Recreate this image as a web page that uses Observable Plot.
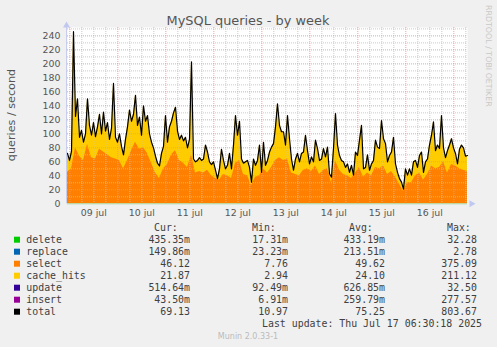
<!DOCTYPE html>
<html><head><meta charset="utf-8">
<script src="https://cdn.jsdelivr.net/npm/d3@7"></script>
<script src="https://cdn.jsdelivr.net/npm/@observablehq/plot@0.6"></script>
<style>html,body{margin:0;padding:0;background:#F0F0F0;} svg{display:block}</style>
</head><body><div id="chart"></div>
<script>
const title = "MySQL queries - by week";
const yLabel = "queries / second";
const startTime = "2025-07-08T22:50:00Z";
const endTime = "2025-07-17T06:50:00Z";
const dayTicks = ["2025-07-09T12:00Z","2025-07-10T12:00Z","2025-07-11T12:00Z","2025-07-12T12:00Z","2025-07-13T12:00Z","2025-07-14T12:00Z","2025-07-15T12:00Z","2025-07-16T12:00Z"];
const dayLabels = ["09 jul","10 jul","11 jul","12 jul","13 jul","14 jul","15 jul","16 jul"];
const yTicks = [0,20,40,60,80,100,120,140,160,180,200,220,240];
const yMinor = [10,30,50,70,90,110,130,150,170,190,210,230,250];

// total queries/second, hourly from startTime
const total = [
72,62,75,246,125,150,95,105,88,100, 150,112,98,116,96,110,128,100,131,104,
116,92,108,172,95,88,100,82,70,92, 110,134,118,128,155,112,124,98,140,118,
126,100,88,80,68,58,54,72,82,126, 88,
110,118,130,138,104,92,98,90,95,80, 92,203,64,60,62,66,62,64,84,74,
60,56,60,48,36,50,78,62,50,55, 72,50,84,126,98,118,64,58,60,62,
52,31,64,55,62,84,45,88,55,62,
74,81,86,110,143,112,103,103,84,126, 93,64,48,64,72,60,72,74,98,76,
57,67,60,91,79,62,64,79,67,81, 43,38,79,129,84,69,62,60,52,57,
45,55,41,74,69,91,112,50,52,70,
48,57,62,91,81,79,119,93,86,60, 69,74,95,57,45,36,31,21,50,41,
50,41,60,62,52,69,74,45,60,64, 84,98,117,76,84,79,126,80,66,76,
84,93,80,72,57,78,84,80,68,69
];
// select queries/second, every 2 hours from startTime
const select = [
45,50,80,68,62,85,66,64,78,74, 70,66,64,62,50,62,76,88,78,80,
72,58,44,36,50,56,70,76,62,58, 52,70,44,46,44,48,40,36,34,42,
40,36,58,62,42,40,26,38,40,50, 44,52,62,66,62,64,44,42,40,48,
50,46,54,42,48,50,30,62,48,42, 40,36,44,52,38,44,40,52,50,54,
42,46,38,28,18,30,30,40,44,34, 42,54,50,52,60,44,56,54,50,48,
46
];

const seriesNames = ["delete","replace","select","cache_hits","update","insert","total"];
const seriesColors = ["#00CC00","#0066B3","#FF8000","#FFCC00","#330099","#990099","#000000"];
const curVals = ["435.35m","149.86m","46.12","21.87","514.64m","43.50m","69.13"];
const minVals = ["17.31m","23.23m","7.76","2.94","92.49m","6.91m","10.97"];
const avgVals = ["433.19m","213.51m","49.62","24.10","626.85m","259.79m","75.25"];
const maxVals = ["32.28","2.78","375.09","211.12","32.50","277.57","803.67"];
const colHeaders = ["Cur:","Min:","Avg:","Max:"];
const lastUpdate = "Last update: Thu Jul 17 06:30:18 2025";
const footer = "Munin 2.0.33-1";
const watermark = "RRDTOOL / TOBI OETIKER";

const start = new Date(startTime), end = new Date(endTime);
const totalRows = total.map((v, i) => ({t: d3.utcHour.offset(start, i), v}));
const selectRows = select.map((v, j) => ({t: d3.utcHour.offset(start, 2 * j), v}));
const dayDates = dayTicks.map(d => new Date(d));
const majorX = d3.utcDay.range(start, end);
const minorX = d3.utcHour.every(6).range(start, end).filter(d => d.getUTCHours() !== 0);

const plot = Plot.plot({
  width: 497, height: 347,
  marginLeft: 67, marginRight: 30, marginTop: 27, marginBottom: 143.7,
  style: {background: "#F0F0F0", fontFamily: "DejaVu Sans", color: "#555", overflow: "visible"},
  x: {type: "utc", domain: [start, end], axis: null},
  y: {domain: [0, 252], axis: null},
  marks: [
    Plot.frame({fill: "white", stroke: "none"}),
    Plot.areaY(totalRows, {x: "t", y: "v", fill: "#FFCC00"}),
    Plot.areaY(selectRows, {x: "t", y: "v", fill: "#FF8000"}),
    Plot.gridY(yMinor, {stroke: "#c4c4c4", strokeOpacity: 0.9, strokeDasharray: "1,1"}),
    Plot.gridX(minorX, {stroke: "#c4c4c4", strokeOpacity: 0.9, strokeDasharray: "1,1"}),
    Plot.gridY(yTicks.slice(1), {stroke: "#e39a9a", strokeOpacity: 0.9, strokeDasharray: "1,1"}),
    Plot.gridX(majorX, {stroke: "#e39a9a", strokeOpacity: 0.9, strokeDasharray: "1,1"}),
    Plot.lineY(totalRows, {x: "t", y: "v", stroke: "#000", strokeWidth: 1.2}),
    Plot.ruleY([0], {stroke: "#a8d8a8", strokeWidth: 1}),
    Plot.ruleX([start], {stroke: "#c8cced", strokeWidth: 1, dx: -1, y1: 0, y2: 252}),
    Plot.dot([{t: start, v: 252}], {x: "t", y: "v", symbol: "triangle", r: 2.6, fill: "#c0c8f0", stroke: "none", dx: -1, dy: -2}),
    Plot.dot([{t: end, v: 0}], {x: "t", y: "v", symbol: "triangle", r: 2.6, rotate: 90, fill: "#c0c8f0", stroke: "none", dx: 4}),
    Plot.axisY(yTicks, {tickSize: 0, tickPadding: 7, fontSize: 9.4, fill: "#555", label: null}),
    Plot.axisX(dayDates, {tickSize: 0, tickPadding: 6, fontSize: 9.4, fill: "#555", label: null,
      tickFormat: (d) => dayLabels[dayDates.findIndex(e => +e === +d)]})
  ]
});
document.getElementById("chart").appendChild(plot);

const svg = d3.select(plot);
svg.append("text").text(title).attr("x", 248).attr("y", 20).attr("text-anchor", "middle")
  .attr("dominant-baseline", "central").attr("font-family", "DejaVu Sans").attr("font-size", 12.9).attr("fill", "#555");
svg.append("text").text(yLabel).attr("transform", "translate(11,115) rotate(-90)").attr("text-anchor", "middle")
  .attr("dominant-baseline", "central").attr("font-family", "DejaVu Sans").attr("font-size", 11.2).attr("fill", "#555");
svg.append("text").text(watermark).attr("transform", "translate(488,5) rotate(90)").attr("text-anchor", "start")
  .attr("dominant-baseline", "central").attr("font-family", "DejaVu Sans").attr("font-size", 7.9).attr("fill", "#c8c8c8");

const mono = "DejaVu Sans Mono", fs = 9.9, txt = "#404040";
const headerX = [154, 252, 349, 447];
colHeaders.forEach((h, k) => svg.append("text").text(h).attr("x", headerX[k]).attr("y", 227.7)
  .attr("text-anchor", "start").attr("dominant-baseline", "central").attr("font-family", mono).attr("font-size", fs).attr("fill", txt));
const colRight = [190, 288, 385, 477];
seriesNames.forEach((name, r) => {
  const y = 239.7 + 12 * r;
  svg.append("rect").attr("x", 14).attr("y", y - 3).attr("width", 6).attr("height", 6).attr("fill", seriesColors[r]);
  svg.append("text").text(name).attr("x", 26.3).attr("y", y).attr("text-anchor", "start").attr("dominant-baseline", "central")
    .attr("font-family", mono).attr("font-size", fs).attr("fill", txt);
  [curVals, minVals, avgVals, maxVals].forEach((arr, k) => {
    svg.append("text").text(arr[r]).attr("x", colRight[k]).attr("y", y).attr("text-anchor", "end")
      .attr("dominant-baseline", "central").attr("font-family", mono).attr("font-size", fs).attr("fill", txt);
  });
});
svg.append("text").text(lastUpdate).attr("x", 482).attr("y", 323.7).attr("text-anchor", "end")
  .attr("dominant-baseline", "central").attr("font-family", mono).attr("font-size", fs).attr("fill", txt);
svg.append("text").text(footer).attr("x", 248).attr("y", 336).attr("text-anchor", "middle")
  .attr("dominant-baseline", "central").attr("font-family", "DejaVu Sans").attr("font-size", 8).attr("fill", "#bbb");
</script></body></html>
